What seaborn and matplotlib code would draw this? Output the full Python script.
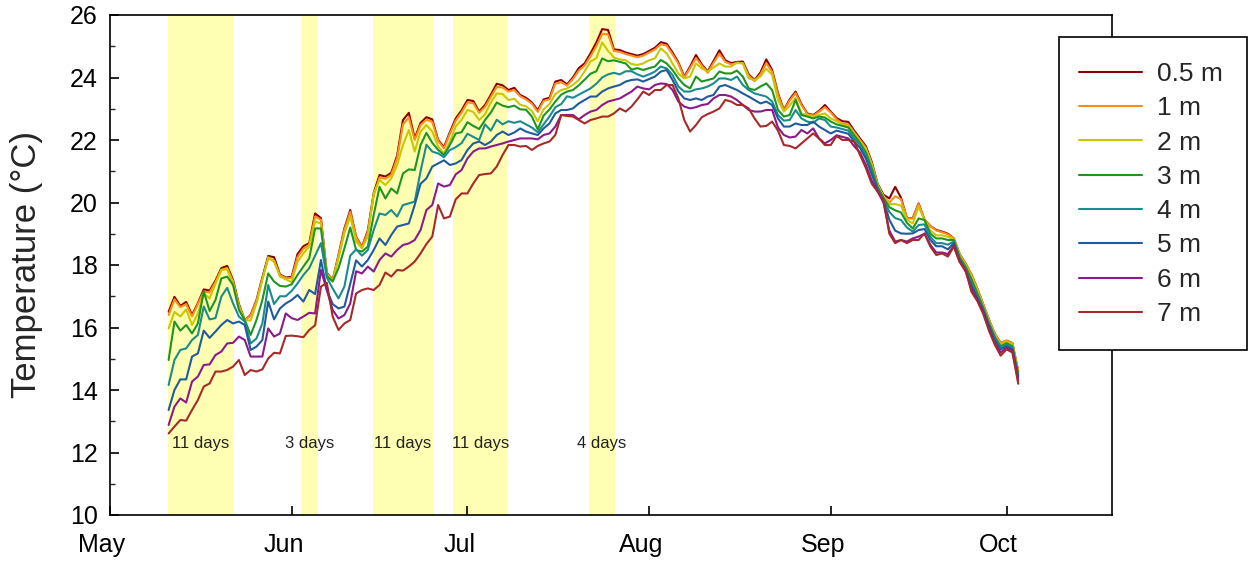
import numpy as np
import pandas as pd
import matplotlib
matplotlib.use("Agg")
import matplotlib.pyplot as plt
import matplotlib.transforms as mtransforms
from matplotlib.patches import Rectangle
from matplotlib.ticker import MultipleLocator, FixedLocator
import seaborn as sns

# ---------------- data ----------------
first_day = 10  # days after 1 May of the first daily value
depths = ["0.5 m", "1 m", "2 m", "3 m", "4 m", "5 m", "6 m", "7 m"]
colors = ["#8B0000", "#FF8C1A", "#C8C800", "#1E961E", "#1A8C8C", "#1F5C99", "#8B1A8B", "#A52A2A"]

t05 = [16.50, 16.98, 16.69, 16.82, 16.40, 16.78, 17.22, 17.18, 17.50, 17.90,
       17.97, 17.52, 16.75, 16.24, 16.40, 16.88, 17.60, 18.29, 18.25, 17.70,
       17.60, 17.62, 18.35, 18.60, 18.70, 19.65, 19.50, 17.75, 17.52, 18.32,
       19.17, 19.76, 18.90, 18.58, 19.10, 20.30, 20.88, 20.83, 20.95, 21.50,
       22.64, 22.87, 22.05, 22.55, 22.73, 22.66, 22.00, 21.77, 22.25, 22.69,
       22.95, 23.28, 23.25, 22.91, 23.12, 23.45, 23.80, 23.75, 23.60, 23.67,
       23.44, 23.35, 23.20, 22.95, 23.30, 23.35, 23.87, 23.92, 23.78, 24.00,
       24.30, 24.45, 24.77, 25.12, 25.55, 25.52, 24.90, 24.88, 24.80, 24.75,
       24.70, 24.75, 24.85, 24.95, 25.13, 25.08, 24.80, 24.48, 24.03, 24.35,
       24.72, 24.42, 24.19, 24.53, 24.87, 24.55, 24.46, 24.50, 24.51, 24.10,
       23.92, 24.16, 24.58, 24.24, 23.50, 22.96, 23.30, 23.55, 23.15, 22.85,
       22.80, 22.93, 23.12, 22.91, 22.70, 22.60, 22.58, 22.30, 22.05, 21.80,
       21.30, 20.60, 20.25, 20.13, 20.50, 20.15, 19.50, 19.50, 19.97, 19.45,
       19.25, 19.12, 19.07, 19.00, 18.85, 18.35, 18.05, 17.70, 17.25, 16.75,
       16.25, 15.80, 15.50, 15.58, 15.50, 14.60]
t1 = [16.40, 16.90, 16.65, 16.75, 16.35, 16.75, 17.15, 17.12, 17.45, 17.85,
      17.90, 17.48, 16.72, 16.24, 16.38, 16.85, 17.55, 18.20, 18.15, 17.68,
      17.58, 17.58, 18.25, 18.52, 18.65, 19.55, 19.45, 17.73, 17.50, 18.30,
      19.12, 19.70, 18.88, 18.56, 19.05, 20.22, 20.80, 20.76, 20.88, 21.42,
      22.50, 22.72, 22.00, 22.48, 22.65, 22.58, 21.97, 21.73, 22.20, 22.62,
      22.88, 23.20, 23.18, 22.87, 23.06, 23.38, 23.70, 23.68, 23.55, 23.60,
      23.40, 23.30, 23.16, 22.90, 23.25, 23.30, 23.80, 23.85, 23.74, 23.95,
      24.22, 24.38, 24.68, 25.00, 25.40, 25.38, 24.85, 24.82, 24.75, 24.70,
      24.65, 24.70, 24.80, 24.90, 25.06, 25.02, 24.74, 24.44, 24.00, 24.30,
      24.62, 24.38, 24.15, 24.47, 24.76, 24.50, 24.42, 24.46, 24.46, 24.06,
      23.88, 24.10, 24.46, 24.18, 23.45, 22.94, 23.26, 23.50, 23.12, 22.83,
      22.78, 22.90, 23.05, 22.88, 22.66, 22.52, 22.50, 22.25, 22.00, 21.75,
      21.25, 20.58, 20.20, 20.00, 20.20, 20.10, 19.50, 19.49, 19.95, 19.45,
      19.25, 19.10, 19.05, 18.98, 18.85, 18.35, 18.05, 17.70, 17.25, 16.75,
      16.25, 15.80, 15.50, 15.58, 15.50, 14.60]
t2 = [15.97, 16.50, 16.35, 16.58, 16.08, 16.45, 17.09, 16.93, 17.40, 17.84,
      17.86, 17.40, 16.65, 16.24, 16.22, 16.77, 17.52, 18.25, 18.10, 17.63,
      17.54, 17.45, 18.10, 18.37, 18.59, 19.39, 19.33, 17.70, 17.50, 18.21,
      19.01, 19.55, 18.75, 18.53, 18.91, 20.29, 20.72, 20.56, 20.77, 21.20,
      21.84, 22.32, 21.63, 22.27, 22.48, 22.27, 21.79, 21.57, 21.95, 22.43,
      22.65, 22.96, 22.90, 22.64, 22.82, 23.20, 23.49, 23.47, 23.28, 23.32,
      23.13, 23.08, 22.93, 22.60, 22.98, 23.15, 23.47, 23.60, 23.65, 23.76,
      23.92, 24.20, 24.51, 24.62, 25.12, 24.85, 24.64, 24.58, 24.55, 24.43,
      24.40, 24.45, 24.55, 24.61, 24.93, 24.77, 24.45, 24.13, 23.97, 24.03,
      24.45, 24.29, 24.19, 24.32, 24.45, 24.35, 24.35, 24.48, 24.45, 23.97,
      23.92, 24.03, 24.29, 24.08, 23.28, 22.91, 23.10, 23.35, 22.85, 22.80,
      22.75, 22.80, 22.85, 22.69, 22.60, 22.50, 22.45, 22.20, 21.95, 21.70,
      21.20, 20.55, 20.20, 19.95, 19.95, 19.90, 19.45, 19.33, 19.87, 19.44,
      19.10, 18.95, 18.95, 18.90, 18.82, 18.30, 18.00, 17.65, 17.20, 16.70,
      16.20, 15.75, 15.45, 15.55, 15.45, 14.55]
t3 = [14.96, 16.19, 15.90, 16.08, 15.81, 16.13, 17.15, 16.53, 16.88, 17.57,
      17.63, 17.36, 16.56, 16.24, 15.76, 16.24, 16.88, 17.73, 17.47, 17.33,
      17.31, 17.38, 17.68, 17.95, 18.21, 19.17, 19.17, 17.65, 17.47, 17.90,
      18.53, 19.20, 18.48, 18.43, 18.59, 19.60, 20.50, 20.13, 20.45, 20.29,
      20.93, 21.06, 21.04, 21.84, 22.23, 21.91, 21.68, 21.52, 21.84, 22.21,
      22.25, 22.57, 22.45, 22.35, 22.64, 22.88, 23.20, 23.10, 23.05, 23.10,
      22.98, 22.97, 22.75, 22.34, 22.78, 22.98, 23.23, 23.45, 23.55, 23.60,
      23.75, 23.93, 24.12, 24.20, 24.61, 24.52, 24.55, 24.50, 24.45, 24.25,
      24.30, 24.24, 24.30, 24.35, 24.56, 24.45, 24.24, 23.97, 23.76, 23.65,
      24.03, 23.87, 23.92, 23.97, 24.19, 24.13, 24.13, 24.22, 24.03, 23.65,
      23.60, 23.71, 23.81, 23.60, 22.96, 22.75, 22.80, 23.28, 22.80, 22.75,
      22.69, 22.75, 22.72, 22.59, 22.50, 22.45, 22.40, 22.15, 21.90, 21.60,
      21.10, 20.50, 20.15, 19.85, 19.75, 19.68, 19.35, 19.17, 19.49, 19.44,
      19.00, 18.85, 18.85, 18.80, 18.80, 18.25, 17.95, 17.55, 17.10, 16.65,
      16.15, 15.70, 15.40, 15.50, 15.40, 14.50]
t4 = [14.16, 14.96, 15.28, 15.33, 15.60, 15.76, 16.67, 16.26, 16.30, 16.99,
      17.27, 16.77, 16.35, 16.19, 15.49, 15.65, 16.13, 17.36, 16.75, 17.00,
      17.00, 17.17, 17.41, 17.68, 17.90, 18.30, 18.70, 17.60, 17.25, 16.93,
      17.31, 18.30, 18.50, 18.30, 18.48, 19.12, 19.65, 19.60, 19.76, 19.55,
      19.92, 19.97, 20.03, 21.00, 21.85, 21.63, 21.57, 21.45, 21.68, 21.77,
      21.90, 22.20, 22.10, 22.00, 22.50, 22.30, 22.65, 22.50, 22.60, 22.55,
      22.60, 22.50, 22.40, 22.25, 22.50, 22.75, 23.05, 23.15, 23.40, 23.35,
      23.45, 23.55, 23.65, 23.80, 24.00, 24.10, 24.15, 24.10, 24.20, 24.20,
      24.10, 24.03, 24.10, 24.19, 24.35, 24.29, 24.08, 23.71, 23.55, 23.55,
      23.62, 23.65, 23.71, 23.81, 23.97, 23.97, 23.92, 24.03, 23.76, 23.60,
      23.49, 23.44, 23.39, 23.23, 22.80, 22.62, 22.64, 22.96, 22.69, 22.59,
      22.55, 22.69, 22.64, 22.43, 22.40, 22.35, 22.30, 22.05, 21.85, 21.50,
      21.00, 20.45, 20.10, 19.70, 19.50, 19.44, 19.20, 19.07, 19.28, 19.30,
      18.90, 18.70, 18.70, 18.65, 18.75, 18.20, 17.90, 17.45, 17.00, 16.60,
      16.10, 15.65, 15.35, 15.45, 15.35, 14.45]
t5 = [13.36, 14.00, 14.34, 14.34, 15.07, 15.17, 15.90, 15.67, 15.87, 16.08,
      16.24, 16.13, 16.19, 16.08, 15.28, 15.39, 15.60, 16.83, 16.26, 16.61,
      16.77, 16.88, 17.04, 16.83, 17.20, 17.07, 18.16, 17.20, 16.75, 16.61,
      16.67, 17.40, 18.15, 17.95, 18.16, 18.48, 18.85, 18.64, 18.96, 19.23,
      19.28, 19.33, 19.92, 20.60, 20.77, 21.15, 21.25, 21.35, 21.20, 21.25,
      21.36, 21.68, 21.89, 21.95, 21.84, 21.95, 22.16, 22.27, 22.16, 22.24,
      22.37, 22.27, 22.21, 22.16, 22.37, 22.53, 22.85, 22.96, 22.96, 23.01,
      23.17, 23.28, 23.39, 23.39, 23.55, 23.65, 23.71, 23.76, 23.87, 23.92,
      23.94, 23.87, 23.95, 24.03, 24.19, 24.24, 23.92, 23.55, 23.33, 23.28,
      23.33, 23.28, 23.39, 23.44, 23.71, 23.76, 23.68, 23.60, 23.49, 23.39,
      23.28, 23.17, 23.23, 23.12, 22.69, 22.43, 22.43, 22.53, 22.48, 22.48,
      22.59, 22.43, 22.32, 22.21, 22.30, 22.25, 22.20, 21.95, 21.75, 21.40,
      20.90, 20.40, 20.05, 19.45, 19.10, 19.01, 19.00, 19.01, 19.12, 19.15,
      18.80, 18.60, 18.60, 18.50, 18.70, 18.15, 17.85, 17.35, 16.95, 16.55,
      16.05, 15.60, 15.30, 15.40, 15.30, 14.40]
t6 = [12.88, 13.47, 13.73, 13.60, 14.27, 14.43, 14.80, 14.82, 15.12, 15.23,
      15.49, 15.51, 15.71, 15.60, 15.07, 15.07, 15.07, 15.97, 15.71, 15.81,
      16.45, 16.30, 16.24, 16.35, 16.47, 16.45, 17.84, 17.20, 16.56, 16.29,
      16.40, 16.77, 17.80, 17.73, 17.95, 17.79, 18.16, 18.37, 18.27, 18.48,
      18.64, 18.69, 18.80, 19.12, 19.76, 19.92, 20.61, 20.51, 20.56, 20.90,
      21.04, 21.41, 21.63, 21.73, 21.73, 21.79, 21.84, 21.89, 21.95, 22.00,
      22.05, 22.05, 22.05, 22.02, 22.16, 22.21, 22.43, 22.80, 22.80, 22.80,
      22.66, 22.80, 22.91, 22.96, 23.12, 23.23, 23.28, 23.33, 23.44, 23.55,
      23.71, 23.65, 23.62, 23.76, 23.81, 23.79, 23.60, 23.23, 23.07, 23.01,
      23.05, 23.12, 23.15, 23.33, 23.44, 23.44, 23.39, 23.28, 23.12, 22.96,
      22.91, 22.91, 22.96, 22.96, 22.40, 22.16, 22.08, 22.11, 22.32, 22.21,
      22.37, 22.05, 21.89, 22.00, 22.15, 22.10, 22.05, 21.80, 21.60, 21.20,
      20.70, 20.35, 20.00, 19.10, 18.75, 18.80, 18.75, 18.85, 18.91, 19.00,
      18.65, 18.40, 18.40, 18.35, 18.62, 18.10, 17.80, 17.25, 16.90, 16.50,
      15.95, 15.50, 15.20, 15.35, 15.25, 14.30]
t7 = [12.61, 12.83, 13.04, 13.02, 13.36, 13.68, 14.11, 14.21, 14.59, 14.59,
      14.64, 14.75, 14.96, 14.48, 14.64, 14.59, 14.66, 15.01, 15.19, 15.17,
      15.73, 15.74, 15.72, 15.69, 15.92, 16.07, 17.31, 17.43, 16.35, 15.92,
      16.13, 16.24, 17.09, 17.20, 17.25, 17.20, 17.36, 17.76, 17.63, 17.84,
      17.82, 17.95, 18.11, 18.37, 18.67, 18.91, 19.92, 19.49, 19.55, 20.10,
      20.29, 20.29, 20.61, 20.88, 20.91, 20.93, 21.15, 21.52, 21.84, 21.84,
      21.79, 21.81, 21.68, 21.81, 21.89, 21.95, 22.16, 22.80, 22.77, 22.75,
      22.64, 22.53, 22.64, 22.69, 22.75, 22.75, 22.85, 23.01, 22.91, 23.07,
      23.30, 23.55, 23.44, 23.60, 23.60, 23.76, 23.76, 23.33, 22.64, 22.27,
      22.48, 22.73, 22.83, 22.91, 23.01, 23.28, 23.23, 23.12, 23.12, 23.01,
      22.69, 22.43, 22.45, 22.59, 22.30, 21.84, 21.81, 21.73, 21.89, 22.05,
      22.21, 22.05, 21.84, 21.84, 22.13, 22.00, 22.00, 21.95, 21.52, 21.10,
      20.60, 20.35, 20.08, 19.00, 18.70, 18.80, 18.70, 18.80, 18.80, 19.01,
      18.59, 18.32, 18.37, 18.27, 18.59, 18.10, 17.85, 17.15, 16.85, 16.45,
      15.90, 15.45, 15.10, 15.30, 15.20, 14.20]

span_start = [9.9, 32.6, 44.9, 58.5, 81.7]
span_end = [21.2, 35.5, 55.1, 67.9, 86.2]
span_labels = ["11 days", "3 days", "11 days", "11 days", "4 days"]
month_ticks = [0, 31, 61, 92, 123, 153]
month_labels = ["May", "Jun", "Jul", "Aug", "Sep", "Oct"]

# ---------------- style ----------------
sns.set_style("ticks")
plt.rcParams["font.family"] = ["Liberation Sans", "DejaVu Sans"]

series = [t05, t1, t2, t3, t4, t5, t6, t7]
frames = []
for s, d in zip(series, depths):
    days = np.arange(first_day, first_day + len(s))
    frames.append(pd.DataFrame({"day": days, "temp": s, "depth": d}))
df = pd.concat(frames, ignore_index=True)

W, H = 1252, 562
fig = plt.figure(figsize=(W / 100, H / 100), dpi=100)
ax = fig.add_axes([110 / W, 1 - 515 / H, 1002 / W, 500 / H])

for s, e in zip(span_start, span_end):
    ax.axvspan(s, e, color="#FFFFB3", lw=0, zorder=0)

sns.lineplot(data=df, x="day", y="temp", hue="depth", hue_order=depths,
             palette=dict(zip(depths, colors)), lw=1.5, estimator=None,
             sort=False, ax=ax, legend=True)

for s, e, l in zip(span_start, span_end, span_labels):
    ax.text((s + e) / 2, 12.3, l, ha="center", va="center", fontsize=12, color="#222222")

ax.set_xlim(0, 171)
ax.set_ylim(10, 26)
ax.xaxis.set_major_locator(FixedLocator(month_ticks))
ax.set_xticklabels(month_labels)
ax.yaxis.set_major_locator(MultipleLocator(2))
ax.yaxis.set_minor_locator(MultipleLocator(1))
ax.set_xlabel("")
ax.set_ylabel("Temperature (°C)", fontsize=25)
ax.yaxis.set_label_coords(-0.067, 0.5)

for sp in ax.spines.values():
    sp.set_visible(True)
    sp.set_color("black")
    sp.set_linewidth(1.2)
ax.tick_params(axis="both", which="major", direction="in", length=6.5, width=1.2,
               labelsize=18, colors="black")
ax.tick_params(axis="y", which="major", pad=9)
ax.tick_params(axis="x", which="major", pad=13)
ax.tick_params(axis="y", which="minor", direction="in", length=3.6, width=1.0)
ax.tick_params(top=False, right=False)

offset = mtransforms.ScaledTranslation(-8 / 100, 0, fig.dpi_scale_trans)
for lab in ax.get_xticklabels():
    lab.set_transform(lab.get_transform() + offset)

# legend: frame drawn as its own box, entries placed inside
handles, labels = ax.get_legend_handles_labels()
pairs = [(h, l) for h, l in zip(handles, labels) if l in depths]
if ax.get_legend() is not None:
    ax.get_legend().remove()
box = Rectangle((1059 / W, 1 - 350 / H), 188 / W, 313 / H, transform=fig.transFigure,
                facecolor="white", edgecolor="black", lw=1.2, zorder=5)
fig.add_artist(box)
leg = fig.legend([p[0] for p in pairs], [p[1] for p in pairs],
                 loc="upper left", bbox_to_anchor=(1079 / W, 1 - 62 / H),
                 bbox_transform=fig.transFigure, borderaxespad=0, borderpad=0,
                 fontsize=19, handlelength=2.39, handletextpad=0.57,
                 labelspacing=0.39, frameon=False)
leg.set_zorder(6)
for line in leg.get_lines():
    line.set_linewidth(1.5)

fig.savefig("out.png", dpi=100)
